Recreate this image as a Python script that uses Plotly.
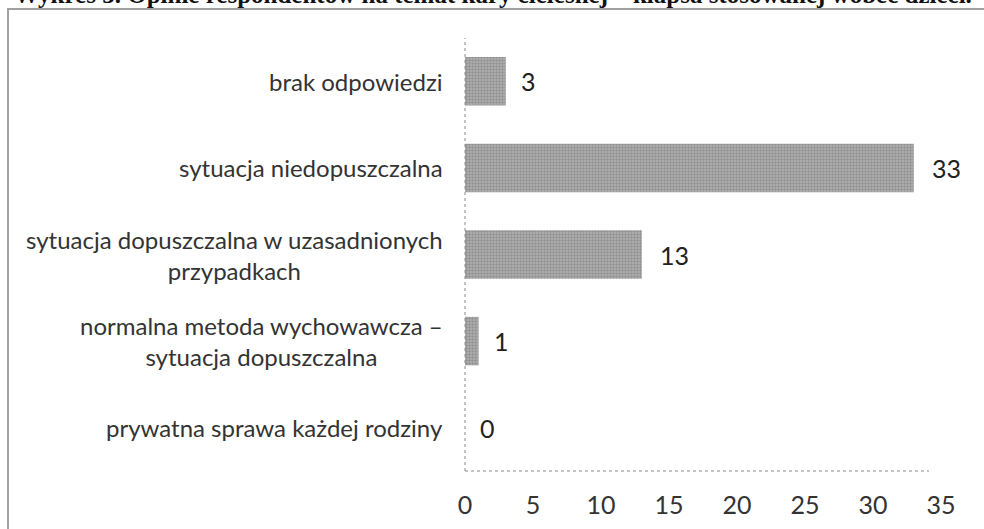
import plotly.graph_objects as go

# Responses, listed bottom to top as they appear on the chart
categories = [
    "prywatna sprawa każdej rodziny",
    "normalna metoda wychowawcza –<br>sytuacja dopuszczalna",
    "sytuacja dopuszczalna w uzasadnionych<br>przypadkach",
    "sytuacja niedopuszczalna",
    "brak odpowiedzi",
]
counts = [0, 1, 13, 33, 3]
x_ticks = [0, 5, 10, 15, 20, 25, 30, 35]
title_text = "Wykres 3. Opinie respondentów na temat kary cielesnej – klapsa stosowanej wobec dzieci."

W, H = 984, 529
ML, MR, MT, MB = 465, 43, 38, 58
PW, PH = W - ML - MR, H - MT - MB

def px_x(p):
    return (p - ML) / PW

def px_y(p):
    return (H - MB - p) / PH

LABEL_FONT = dict(family="Lato", size=24, color="#333333")

fig = go.Figure(
    go.Bar(
        x=counts,
        y=categories,
        orientation="h",
        marker=dict(
            color="#a4a4a4",
            line=dict(width=0),
            pattern=dict(shape=".", fgcolor="#6e6e6e", bgcolor="#b2b2b2",
                         size=3, solidity=0.5),
        ),
        width=0.56,
        hoverinfo="skip",
    )
)

annotations = []
# Category labels, centred lines, right-aligned against the axis
for cat in categories:
    annotations.append(dict(
        x=0, xref="paper", y=cat, yref="y", text=cat, showarrow=False,
        xanchor="right", yanchor="middle", align="center", xshift=-20,
        font=LABEL_FONT,
    ))
# Value labels at the end of each bar
for cat, v in zip(categories, counts):
    annotations.append(dict(
        x=v, xref="x", y=cat, yref="y", text=str(v), showarrow=False,
        xanchor="left", yanchor="middle", xshift=16 if v > 5 else 13,
        font=dict(family="Lato", size=25, color="#222222"),
    ))
# Heading running off the top edge
annotations.append(dict(
    x=px_x(12), xref="paper", y=px_y(10), yref="paper", text=f"<b>{title_text}</b>",
    showarrow=False, xanchor="left", yanchor="bottom",
    font=dict(family="Liberation Serif", size=25, color="#111111"),
))

shapes = [
    # dotted axis lines
    dict(type="line", xref="paper", yref="paper", x0=0, x1=px_x(929), y0=0, y1=0,
         line=dict(color="#8a8a8a", width=1, dash="dot")),
    dict(type="line", xref="paper", yref="paper", x0=0, x1=0, y0=0, y1=1,
         line=dict(color="#8a8a8a", width=1, dash="dot")),
    # outer frame
    dict(type="rect", xref="paper", yref="paper",
         x0=px_x(8), x1=px_x(W + 20), y0=px_y(H + 20), y1=px_y(9),
         line=dict(color="#a0a0a0", width=2)),
]

fig.update_layout(
    width=W, height=H,
    margin=dict(l=ML, r=MR, t=MT, b=MB),
    paper_bgcolor="white", plot_bgcolor="white",
    showlegend=False,
    bargap=0.44,
    xaxis=dict(range=[0, 35], tickvals=x_ticks, showgrid=False, zeroline=False,
               showline=False, ticks="", ticklabelstandoff=17, automargin=False,
               tickfont=dict(family="Lato", size=25, color="#333333"), fixedrange=True),
    yaxis=dict(showticklabels=False, showgrid=False, zeroline=False, showline=False,
               ticks="", fixedrange=True, automargin=False),
    annotations=annotations,
    shapes=shapes,
)

fig.write_html("out.html", config={"displayModeBar": False})
